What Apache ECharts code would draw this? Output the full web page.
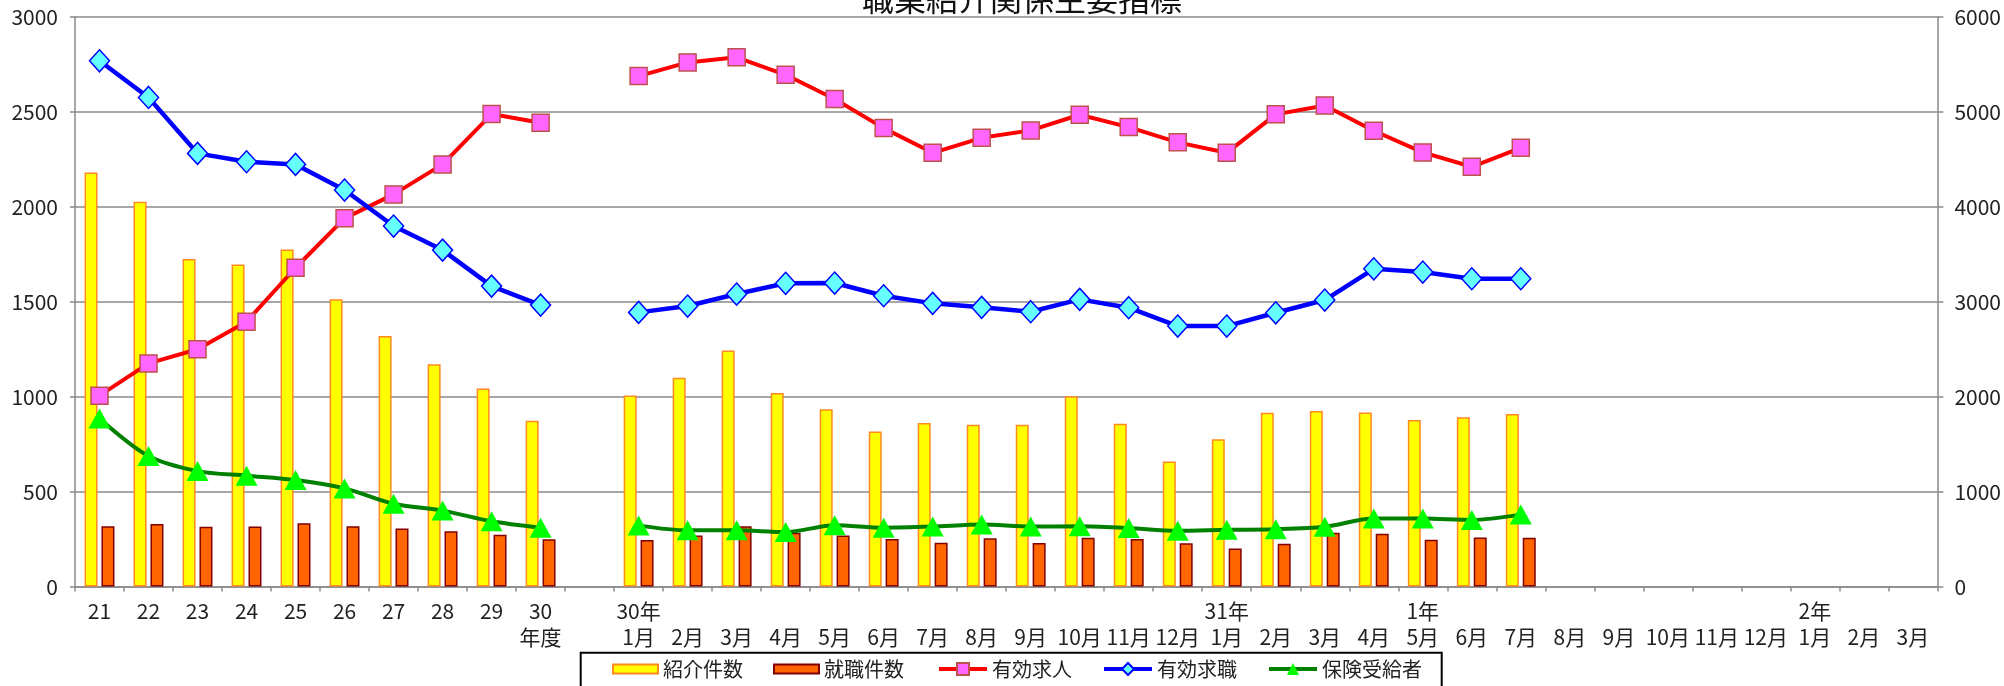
<!DOCTYPE html>
<html>
<head>
<meta charset="utf-8">
<script src="https://cdn.jsdelivr.net/npm/echarts@6/dist/echarts.min.js"></script>
<style>
html,body{margin:0;padding:0;background:#fff;}
#c{width:2004px;height:686px;}
</style>
</head>
<body>
<div id="c"></div>
<script>
// ---- data ----
var catTop = ['21','22','23','24','25','26','27','28','29','30','',
  '30年','','','','','','','','','','','',
  '31年','','','',
  '1年','','','','','','','',
  '2年','',''];
var catBottom = ['','','','','','','','','','年度','',
  '1月','2月','3月','4月','5月','6月','7月','8月','9月','10月','11月','12月',
  '1月','2月','3月','4月',
  '5月','6月','7月','8月','9月','10月','11月','12月',
  '1月','2月','3月'];

var shokai = [2180, 2026, 1724, 1696, 1775, 1512, 1319, 1171, 1043, 873, null,
  1006, 1100, 1243, 1019, 934, 817, 861, 852, 852, 1002, 857, 659,
  776, 915, 925, 916, 877, 892, 909,
  null, null, null, null, null, null, null, null];
var shushoku = [318, 330, 315, 316, 334, 318, 306, 292, 273, 249, null,
  245, 269, 318, 283, 269, 250, 231, 254, 230, 257, 250, 228,
  200, 226, 283, 278, 247, 259, 257,
  null, null, null, null, null, null, null, null];
var kyujin = [2010, 2350, 2499, 2789, 3357, 3877, 4129, 4445, 4975, 4883, null,
  5375, 5519, 5572, 5388, 5133, 4827, 4567, 4725, 4803, 4968, 4838, 4677,
  4567, 4972, 5066, 4799, 4571, 4420, 4620,
  null, null, null, null, null, null, null, null];
var kyushoku = [5536, 5150, 4561, 4473, 4445, 4175, 3796, 3543, 3164, 2964, null,
  2887, 2954, 3080, 3193, 3196, 3062, 2982, 2940, 2894, 3024, 2936, 2743,
  2743, 2883, 3017, 3346, 3312, 3241, 3241,
  null, null, null, null, null, null, null, null];
var hoken = [885, 687, 608, 584, 561, 517, 436, 400, 344, 310, null,
  321, 296, 296, 287, 323, 310, 316, 327, 316, 318, 308, 294,
  299, 302, 315, 358, 358, 351, 379,
  null, null, null, null, null, null, null, null];

var leftTicks = {min: 0, max: 3000, interval: 500};
var rightTicks = {min: 0, max: 6000, interval: 1000};

var categories = catTop.map(function (t, i) { return t + '\n' + catBottom[i]; });

var FONT = '"Noto Sans CJK JP", "Noto Sans", sans-serif';
var TXT = '#222';
var GRAY = '#8a8a8a';
function plain(v) { return String(v); }

var chart = echarts.init(document.getElementById('c'), null, {renderer: 'canvas'});
chart.setOption({
  animation: false,
  textStyle: {fontFamily: FONT},
  title: {
    text: '職業紹介関係主要指標',
    left: 862, top: -17, padding: 0,
    textStyle: {fontFamily: FONT, fontSize: 32, fontWeight: 'normal', color: '#111'}
  },
  grid: {left: 75, right: 66.5, top: 16.7, bottom: 99.4, containLabel: false},
  graphic: [{
    type: 'rect', z: 0,
    shape: {x: 580.7, y: 652.7, width: 861, height: 60},
    style: {fill: '#fff', stroke: '#000', lineWidth: 2}
  }],
  legend: [{
    data: ['紹介件数', '就職件数'],
    left: 612, top: 659, padding: 0,
    itemWidth: 45, itemHeight: 9, itemGap: 30,
    icon: 'rect',
    textStyle: {fontFamily: FONT, fontSize: 20, color: TXT}
  }, {
    data: ['有効求人', '有効求職', '保険受給者'],
    left: 937, top: 659, padding: 0,
    itemWidth: 48, itemHeight: 15, itemGap: 30,
    lineStyle: {width: 4},
    textStyle: {fontFamily: FONT, fontSize: 20, color: TXT}
  }],
  xAxis: {
    type: 'category',
    data: categories,
    boundaryGap: true,
    axisLine: {show: true, lineStyle: {color: GRAY, width: 1.5}},
    axisTick: {show: true, inside: false, length: 5, interval: 0, alignWithLabel: false, lineStyle: {color: GRAY, width: 1.5}},
    axisLabel: {interval: 0, fontSize: 21, lineHeight: 26, margin: 11, color: TXT, fontFamily: FONT, verticalAlign: 'top'},
    splitLine: {show: false}
  },
  yAxis: [{
    type: 'value',
    min: leftTicks.min, max: leftTicks.max, interval: leftTicks.interval,
    axisLine: {show: true, lineStyle: {color: GRAY, width: 1.5}},
    axisTick: {show: true, length: 5, lineStyle: {color: GRAY, width: 1.5}},
    axisLabel: {fontSize: 21, margin: 17, color: TXT, fontFamily: FONT, formatter: plain},
    splitLine: {show: true, lineStyle: {color: GRAY, width: 1.5}}
  }, {
    type: 'value',
    position: 'right',
    min: rightTicks.min, max: rightTicks.max, interval: rightTicks.interval,
    axisLine: {show: true, lineStyle: {color: GRAY, width: 1.5}},
    axisTick: {show: true, length: 6, lineStyle: {color: GRAY, width: 1.5}},
    axisLabel: {fontSize: 21, margin: 17, color: TXT, fontFamily: FONT, formatter: plain},
    splitLine: {show: false}
  }],
  series: [{
    name: '紹介件数', type: 'bar', yAxisIndex: 0,
    data: shokai, barWidth: 13, barGap: '30%',
    itemStyle: {color: '#FFFF00', borderColor: '#FF8A1E', borderWidth: 1.5}
  }, {
    name: '就職件数', type: 'bar', yAxisIndex: 0,
    data: shushoku, barWidth: 13, barGap: '30%',
    itemStyle: {color: '#FF6600', borderColor: '#800000', borderWidth: 1.5}
  }, {
    name: '有効求人', type: 'line', yAxisIndex: 1,
    data: kyujin, connectNulls: false,
    symbol: 'rect', symbolSize: 17, showAllSymbol: true,
    lineStyle: {color: '#FF0000', width: 4},
    itemStyle: {color: '#FF66FF', borderColor: '#C0504D', borderWidth: 1.5}
  }, {
    name: '有効求職', type: 'line', yAxisIndex: 1,
    data: kyushoku, connectNulls: false,
    symbol: 'diamond', symbolSize: [20, 22], showAllSymbol: true,
    lineStyle: {color: '#0000FF', width: 4.5},
    itemStyle: {color: '#66FFFF', borderColor: '#0000FF', borderWidth: 1.5}
  }, {
    name: '保険受給者', type: 'line', yAxisIndex: 0,
    data: hoken, connectNulls: false, smooth: 0.3,
    symbol: 'triangle', symbolSize: [22, 20], showAllSymbol: true,
    lineStyle: {color: '#008000', width: 4},
    itemStyle: {color: '#00FF00', borderWidth: 0}
  }]
});
</script>
</body>
</html>
